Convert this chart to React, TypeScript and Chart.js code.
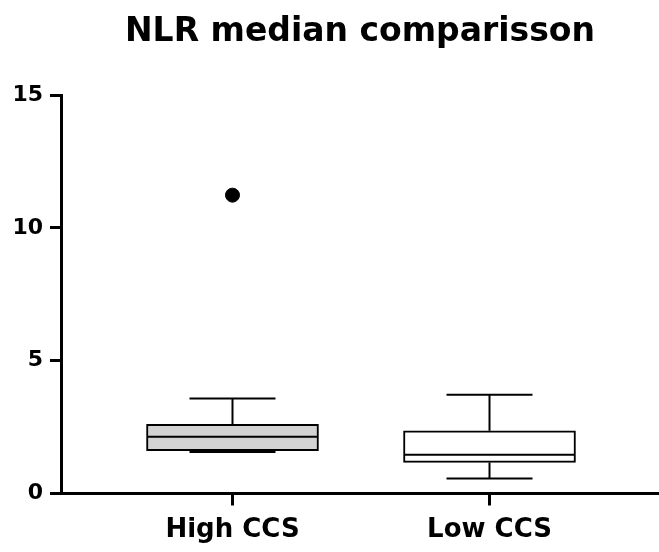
import React, { useEffect, useRef } from "react";
import { Chart, registerables } from "chart.js";

Chart.register(...registerables);

const categories = ["High CCS", "Low CCS"];
const positions = [1, 2];
const whiskerLow = [1.56, 0.56];
const q1 = [1.61, 1.17];
const median = [2.14, 1.46];
const q3 = [2.6, 2.36];
const whiskerHigh = [3.58, 3.72];
const outlierX = [1];
const outlierY = [11.23];
const boxFill = ["#d3d3d3", "#ffffff"];
const yTicks = [0, 5, 10, 15];
const titleText = "NLR median comparisson";

const FONT = "'DejaVu Sans', 'Liberation Sans', Arial, sans-serif";

const boxPlugin = {
  id: "boxWhiskers",
  afterDatasetsDraw(chart: any) {
    const ctx = chart.ctx;
    const xs = chart.scales.x;
    const ys = chart.scales.y;
    const meta = chart.getDatasetMeta(0);
    ctx.save();
    ctx.strokeStyle = "#000";
    ctx.lineWidth = 2;
    positions.forEach((p, i) => {
      const xc = xs.getPixelForValue(p);
      const bw = meta.data[i] ? meta.data[i].width : 170;
      const half = bw / 2;
      const cap = bw / 4;
      const line = (x1: number, y1: number, x2: number, y2: number) => {
        ctx.beginPath();
        ctx.moveTo(x1, y1);
        ctx.lineTo(x2, y2);
        ctx.stroke();
      };
      const ym = ys.getPixelForValue(median[i]);
      line(xc - half + 1, ym, xc + half - 1, ym);
      const yq3 = ys.getPixelForValue(q3[i]);
      const yhi = ys.getPixelForValue(whiskerHigh[i]);
      line(xc, yq3, xc, yhi);
      line(xc - cap, yhi, xc + cap, yhi);
      const yq1 = ys.getPixelForValue(q1[i]);
      const ylo = ys.getPixelForValue(whiskerLow[i]);
      line(xc, yq1, xc, ylo);
      line(xc - cap, ylo, xc + cap, ylo);
    });
    ctx.restore();
  },
};

export default function App() {
  const ref = useRef<HTMLCanvasElement>(null);
  useEffect(() => {
    if (!ref.current) return;
    const chart = new Chart(ref.current, {
      type: "bar",
      data: {
        datasets: [
          {
            type: "bar",
            data: positions.map((p, i) => ({ x: p, y: [q1[i], q3[i]] })) as any,
            backgroundColor: boxFill,
            borderColor: "#000",
            borderWidth: 2,
            borderSkipped: false,
            barThickness: 172,
          } as any,
          {
            type: "scatter",
            data: outlierX.map((x, i) => ({ x, y: outlierY[i] })),
            backgroundColor: "#000",
            borderColor: "#000",
            pointRadius: 7,
            showLine: false,
          } as any,
        ],
      },
      options: {
        responsive: false,
        animation: false,
        devicePixelRatio: 1,
        layout: { padding: 0, autoPadding: false },
        plugins: {
          legend: { display: false },
          tooltip: { enabled: false },
          title: {
            display: true,
            text: titleText,
            fullSize: false,
            color: "#000",
            font: { family: FONT, size: 33, weight: "bold" },
            padding: { top: 13, bottom: 42.4 },
          },
        },
        scales: {
          x: {
            type: "linear",
            offset: false,
            min: 0.3327,
            max: 2.6595,
            afterFit: (s: any) => {
              s.height = 58.5;
            },
            afterBuildTicks: (s: any) => {
              s.ticks = positions.map((v) => ({ value: v }));
            },
            ticks: {
              color: "#000",
              font: { family: FONT, size: 26, weight: "bold" },
              padding: 9,
              maxRotation: 0,
              autoSkip: false,
              callback: (v: any) => {
                const idx = positions.indexOf(Number(v));
                return idx >= 0 ? categories[idx] : "";
              },
            },
            grid: {
              offset: false,
              drawOnChartArea: false,
              drawTicks: true,
              tickLength: 12,
              color: "#000",
              lineWidth: 3,
            },
            border: { display: true, color: "#000", width: 3 },
          },
          y: {
            type: "linear",
            min: 0,
            max: 15,
            afterFit: (s: any) => {
              s.width = 61;
            },
            afterBuildTicks: (s: any) => {
              s.ticks = yTicks.map((v) => ({ value: v }));
            },
            ticks: {
              color: "#000",
              font: { family: FONT, size: 22, weight: "bold" },
              padding: 7,
            },
            grid: {
              drawOnChartArea: false,
              drawTicks: true,
              tickLength: 11,
              color: "#000",
              lineWidth: 3,
            },
            border: { display: true, color: "#000", width: 3 },
          },
        },
      },
      plugins: [boxPlugin],
    });
    return () => chart.destroy();
  }, []);
  return (
    <div style={{ position: "absolute", left: 0, top: 0, width: 659, height: 552, background: "#fff" }}>
      <canvas ref={ref} width={659} height={552} style={{ display: "block" }} />
    </div>
  );
}
